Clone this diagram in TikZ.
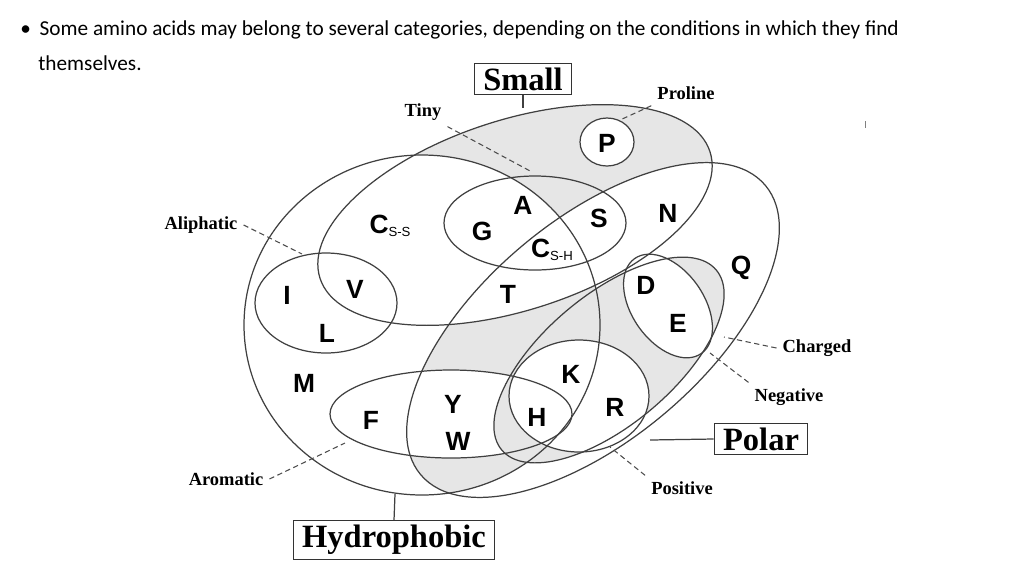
\documentclass[tikz,border=0pt]{standalone}
\usepackage{fontspec}
\setmainfont{Liberation Serif}
\newfontfamily\lettf{Liberation Sans}
\newfontfamily\bodyf{Carlito}
\begin{document}
\begin{tikzpicture}[x=0.02cm,y=-0.02cm,
  ln/.style={draw=black!75,line width=0.7pt},
  dsh/.style={draw=black!70,line width=0.6pt,dash pattern=on 3pt off 2pt},
  lett/.style={font=\lettf\bfseries\fontsize{15}{15}\selectfont},
  lab/.style={font=\bfseries\fontsize{10.5}{11}\selectfont},
  bigbox/.style={draw=black!80,line width=0.7pt,font=\bfseries\fontsize{18.5}{20}\selectfont,inner xsep=5pt,inner ysep=2.5pt},
  smallT/.style={rotate around={18:(515,215)}},
  polarT/.style={rotate around={40:(593,330)}},
  chargedT/.style={rotate around={40:(609,360)}},
  negT/.style={rotate around={-55:(668,306)}}
]
\definecolor{regiongray}{HTML}{E6E6E6}
\path[use as bounding box] (0,0) rectangle (1024,576);
% fills
\begin{scope}
  \clip (422,325) ellipse [x radius=178,y radius=170];
  \fill[regiongray,polarT] (593,330) ellipse [x radius=225,y radius=110];
\end{scope}
\fill[regiongray,smallT] (515,215) ellipse [x radius=205,y radius=95];
\begin{scope}
  \clip[smallT] (515,215) ellipse [x radius=205,y radius=95];
  \fill[white] (422,325) ellipse [x radius=178,y radius=170];
  \fill[white,polarT] (593,330) ellipse [x radius=225,y radius=110];
\end{scope}
\fill[white] (451,414) ellipse [x radius=121,y radius=44];
\fill[regiongray,chargedT] (609,360) ellipse [x radius=140,y radius=65];
\fill[white] (579,396) ellipse [x radius=70,y radius=56];
\fill[white,negT] (668,306) ellipse [x radius=58,y radius=36];
\fill[white] (607,142) ellipse [x radius=27,y radius=24];
% outlines
\draw[ln] (422,325) ellipse [x radius=178,y radius=170];
\draw[ln,smallT] (515,215) ellipse [x radius=205,y radius=95];
\draw[ln,polarT] (593,330) ellipse [x radius=225,y radius=110];
\draw[ln] (535,223) ellipse [x radius=91,y radius=47];
\draw[ln] (326,303) ellipse [x radius=71,y radius=50];
\draw[ln] (451,414) ellipse [x radius=121,y radius=44];
\draw[ln,chargedT] (609,360) ellipse [x radius=140,y radius=65];
\draw[ln] (579,396) ellipse [x radius=70,y radius=56];
\draw[ln,negT] (668,306) ellipse [x radius=58,y radius=36];
\draw[ln] (607,142) ellipse [x radius=27,y radius=24];
% letters
\node[lett] (P) at (607,143) {P};
\node[lett] (A) at (523,205) {A};
\node[lett] (S) at (599,218) {S};
\node[lett] (N) at (668,213) {N};
\node[lett] (G) at (482,231) {G};
\node[lett] (Css) at (390,226) {C\raisebox{-0.2ex}{\normalfont\lettf\fontsize{7.5}{8}\selectfont S-S}};
\node[lett] (Csh) at (552,250) {C\raisebox{-0.2ex}{\normalfont\lettf\fontsize{7.5}{8}\selectfont S-H}};
\node[lett] (Q) at (741,268) {Q};
\node[lett] (I) at (287,295) {I};
\node[lett] (V) at (355,289) {V};
\node[lett] (T) at (508,294) {T};
\node[lett] (D) at (646,285) {D};
\node[lett] (E) at (678,323) {E};
\node[lett] (L) at (327,333) {L};
\node[lett] (K) at (571,374) {K};
\node[lett] (M) at (304,383) {M};
\node[lett] (Y) at (453,404) {Y};
\node[lett] (R) at (615,407) {R};
\node[lett] (F) at (371,420) {F};
\node[lett] (H) at (537,417) {H};
\node[lett] (W) at (458,441) {W};
% boxes
\node[bigbox] (small) at (523,79) {Small};
\node[bigbox] (polar) at (761,439) {Polar};
\node[bigbox] (hydro) at (394,540) {Hydrophobic};
\coordinate (smallE) at (523,108);
\coordinate (polarE) at (650,440);
\coordinate (hydroE) at (395,494);
\draw[ln] (small.south) -- (smallE);
\draw[ln] (polar.west) -- (polarE);
\draw[ln] (hydro.north) -- (hydroE);
% labels
\node[lab] (prol) at (686,93) {Proline};
\node[lab] (tiny) at (423,112) {Tiny};
\node[lab] (alip) at (201,225) {Aliphatic};
\node[lab] (arom) at (226,479) {Aromatic};
\node[lab] (chg) at (817,348) {Charged};
\node[lab] (neg) at (789,397) {Negative};
\node[lab] (pos) at (682,488) {Positive};
\coordinate (prolE) at (620,120);
\coordinate (tinyE) at (532,172);
\coordinate (alipE) at (302,254);
\coordinate (aromE) at (345,443);
\coordinate (chgE) at (724,337);
\coordinate (negE) at (710,353);
\coordinate (posE) at (610,447);
\draw[dsh] (prol.south west) -- (prolE);
\draw[dsh] (tiny.south east) -- (tinyE);
\draw[dsh] (alip.east) -- (alipE);
\draw[dsh] (arom.east) -- (aromE);
\draw[dsh] (chg.west) -- (chgE);
\draw[dsh] (neg.north west) -- (negE);
\draw[dsh] (pos.north west) -- (posE);
% top text
\node[anchor=west,font=\bodyf\fontsize{12.1}{13}\selectfont,inner sep=0] (t1) at (20,30) {\textbullet\hspace{5pt}Some amino acids may belong to several categories, depending on the conditions in which they find};
\node[anchor=west,font=\bodyf\fontsize{12.1}{13}\selectfont,inner sep=0] (t2) at (38,63) {themselves.};
\draw[black!50,line width=0.5pt] (865,121) -- (865,128);
\end{tikzpicture}
\end{document}
